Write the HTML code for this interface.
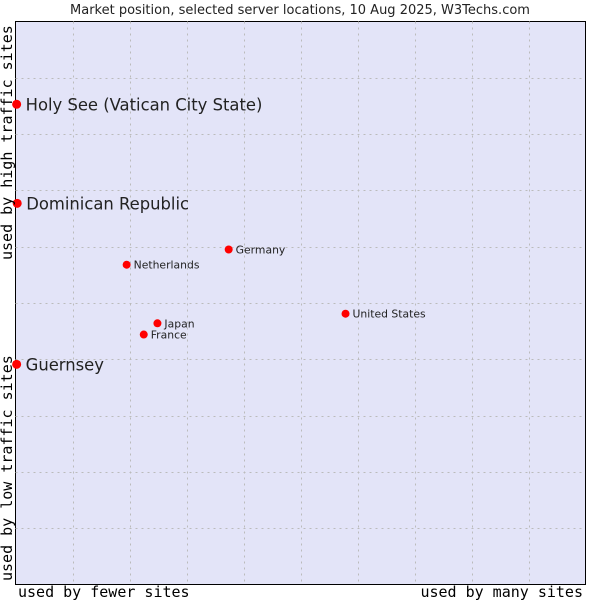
<!DOCTYPE html>
<html><head><meta charset="utf-8"><style>
body{margin:0;background:#fff;width:600px;height:600px;overflow:hidden}
svg text{font-family:"DejaVu Sans","Liberation Sans",sans-serif;fill:#222}
.mono{font-family:"DejaVu Sans Mono","Liberation Mono",monospace !important;fill:#000 !important}
</style></head><body>
<svg id="chart" width="600" height="600">
<text x="300" y="14" text-anchor="middle" font-size="13">Market position, selected server locations, 10 Aug 2025, W3Techs.com</text>
<rect x="15.5" y="21.5" width="570" height="563" fill="#e3e4f8" stroke="#000"/>
<g id="grid"></g>
<g id="pts"></g>
<text class="mono" x="18" y="597" font-size="15">used by fewer sites</text>
<text class="mono" x="583" y="597" font-size="15" text-anchor="end">used by many sites</text>
<text class="mono" transform="translate(12,581) rotate(-90)" font-size="15">used by low traffic sites</text>
<text class="mono" transform="translate(12,260) rotate(-90)" font-size="15">used by high traffic sites</text>
</svg>
<script>
const names=["Holy See (Vatican City State)","Dominican Republic","Guernsey","Netherlands","Germany","United States","Japan","France"];
const xVals=[0.2,0.3,0.2,19.5,37.4,57.9,24.9,22.5];
const yVals=[85.3,67.7,39.1,56.8,59.5,48.1,46.4,44.4];
const big=[true,true,true,false,false,false,false,false];
const L=15.5,R=585.5,T=21.5,B=584.5;
const sx=v=>L+v/100*(R-L), sy=v=>B-v/100*(B-T);
const NS="http://www.w3.org/2000/svg";
const g=document.getElementById('grid');
for(let i=1;i<10;i++){
 const v=document.createElementNS(NS,'line');
 
 
 const x=Math.round(sx(i*10))+0.5;
 v.setAttribute('x1',x);v.setAttribute('x2',x);v.setAttribute('y1',T);v.setAttribute('y2',B);
 v.setAttribute('stroke','#bbb');v.setAttribute('stroke-dasharray','2,4');g.appendChild(v);
 const h=document.createElementNS(NS,'line');
 
 
 const y=Math.round(sy(i*10))+0.5;
 h.setAttribute('x1',L);h.setAttribute('x2',R);h.setAttribute('y1',y);h.setAttribute('y2',y);
 h.setAttribute('stroke','#bbb');h.setAttribute('stroke-dasharray','2,4');g.appendChild(h);
}
const p=document.getElementById('pts');
names.forEach((n,i)=>{
 const x=sx(xVals[i]),y=sy(yVals[i]);
 const c=document.createElementNS(NS,'circle');
 
 
 c.setAttribute('cx',x);c.setAttribute('cy',y);c.setAttribute('r',big[i]?4.5:4);c.setAttribute('fill','#f00');
 p.appendChild(c);
 const t=document.createElementNS(NS,'text');
 
 
 t.setAttribute('x',x+(big[i]?9:7));t.setAttribute('y',y+(big[i]?6:4));
 t.setAttribute('font-size',big[i]?16.4:10.8);t.textContent=n;p.appendChild(t);
});
</script>
</body></html>
